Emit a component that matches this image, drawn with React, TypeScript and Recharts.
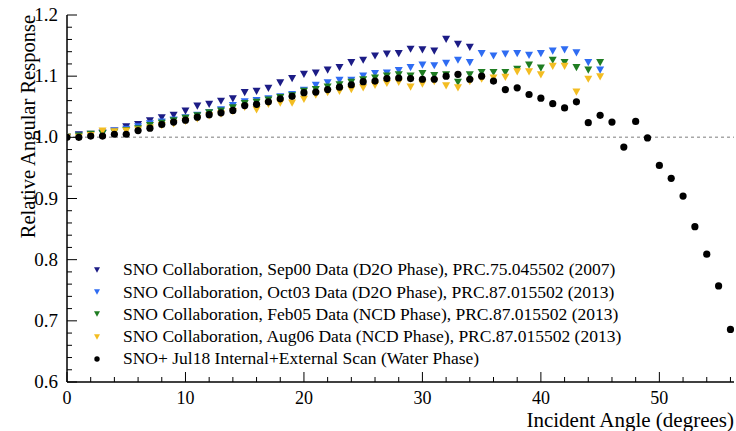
import React from 'react';
import { ScatterChart, Scatter, XAxis, YAxis, ReferenceLine, Legend, Label } from 'recharts';

const FONT = '"Liberation Serif", "Times New Roman", Times, serif';

// Incident angles (degrees)
const angles = [
  0, 1, 2, 3, 4, 5, 6, 7, 8, 9, 10, 11, 12, 13, 14, 15, 16, 17, 18, 19,
  20, 21, 22, 23, 24, 25, 26, 27, 28, 29, 30, 31, 32, 33, 34, 35, 36, 37, 38, 39,
  40, 41, 42, 43, 44, 45, 46, 47, 48, 49, 50, 51, 52, 53, 54, 55, 56,
];

// SNO Sep00 (D2O) 0..34 deg
const sep00 = [
  1.000, 1.004, 1.005, 1.007, 1.010, 1.017, 1.021, 1.027, 1.032, 1.036,
  1.043, 1.051, 1.054, 1.059, 1.063, 1.073, 1.075, 1.080, 1.089, 1.096,
  1.103, 1.105, 1.110, 1.114, 1.122, 1.126, 1.133, 1.136, 1.137, 1.144,
  1.143, 1.141, 1.160, 1.152, 1.147,
];

// SNO Oct03 (D2O) 0..45 deg
const oct03 = [
  1.000, 1.002, 1.004, 1.006, 1.010, 1.013, 1.017, 1.022, 1.025, 1.028,
  1.032, 1.036, 1.040, 1.045, 1.052, 1.058, 1.060, 1.063, 1.066, 1.070,
  1.077, 1.085, 1.089, 1.093, 1.093, 1.100, 1.104, 1.105, 1.109, 1.114,
  1.118, 1.117, 1.121, 1.126, 1.122, 1.137, 1.133, 1.136, 1.137, 1.134,
  1.137, 1.141, 1.143, 1.138, 1.122, 1.110,
];

// SNO Feb05 (NCD) 0..45 deg
const feb05 = [
  1.000, 1.002, 1.005, 1.006, 1.008, 1.011, 1.014, 1.019, 1.023, 1.027,
  1.031, 1.035, 1.040, 1.043, 1.048, 1.055, 1.057, 1.061, 1.065, 1.068,
  1.075, 1.078, 1.082, 1.086, 1.090, 1.094, 1.097, 1.100, 1.102, 1.100,
  1.104, 1.101, 1.102, 1.090, 1.102, 1.106, 1.106, 1.106, 1.111, 1.118,
  1.113, 1.126, 1.122, 1.114, 1.110, 1.122,
];

// SNO Aug06 (NCD) 0..45 deg
const aug06 = [
  1.000, 1.000, 1.003, 1.010, 1.009, 1.010, 1.012, 1.015, 1.019, 1.022,
  1.026, 1.030, 1.035, 1.038, 1.042, 1.049, 1.045, 1.054, 1.056, 1.056,
  1.062, 1.069, 1.073, 1.075, 1.078, 1.081, 1.085, 1.088, 1.090, 1.082,
  1.087, 1.091, 1.084, 1.081, 1.091, 1.095, 1.097, 1.098, 1.107, 1.107,
  1.102, 1.116, 1.116, 1.074, 1.095, 1.099,
];

// SNO+ Jul18 (Water) 0..56 deg
const jul18 = [
  1.000, 1.000, 1.002, 1.002, 1.005, 1.005, 1.011, 1.015, 1.021, 1.025,
  1.028, 1.033, 1.037, 1.040, 1.044, 1.052, 1.054, 1.058, 1.063, 1.067,
  1.073, 1.074, 1.078, 1.082, 1.086, 1.091, 1.092, 1.096, 1.097, 1.096,
  1.095, 1.095, 1.100, 1.103, 1.095, 1.100, 1.092, 1.078, 1.081, 1.070,
  1.064, 1.055, 1.048, 1.058, 1.024, 1.036, 1.025, 0.984, 1.026, 0.999,
  0.954, 0.933, 0.904, 0.854, 0.809, 0.757, 0.686,
];

const seriesNames = [
  'SNO Collaboration, Sep00 Data (D2O Phase), PRC.75.045502 (2007)',
  'SNO Collaboration, Oct03 Data (D2O Phase), PRC.87.015502 (2013)',
  'SNO Collaboration, Feb05 Data (NCD Phase), PRC.87.015502 (2013)',
  'SNO Collaboration, Aug06 Data (NCD Phase), PRC.87.015502 (2013)',
  'SNO+ Jul18 Internal+External Scan (Water Phase)',
];
const seriesColors = ['#1c1c86', '#2f6cf2', '#1f7d22', '#f3bd22', '#000000'];
const seriesKinds = ['tri', 'tri', 'tri', 'tri', 'dot'];
const seriesValues = [sep00, oct03, feb05, aug06, jul18];

const xMajorTicks = [0, 10, 20, 30, 40, 50];
const yMajorTicks = [0.6, 0.7, 0.8, 0.9, 1.0, 1.1, 1.2];
const X_MAX = 56.3;
const xMinorStep = 2;
const yMinorStep = 0.02;

const xTicks: number[] = [];
for (let v = 0; v <= X_MAX + 1e-9; v += xMinorStep) xTicks.push(Math.round(v * 100) / 100);
const yTicks: number[] = [];
for (let i = 0; i <= 30; i++) yTicks.push(Math.round((0.6 + i * yMinorStep) * 1000) / 1000);

const isMajor = (v: number, arr: number[]) => arr.some((m) => Math.abs(m - v) < 1e-6);

const toPoints = (vals: number[]) => vals.map((y, i) => ({ x: angles[i], y }));

const Marker = ({ kind, cx, cy, color, s = 1 }: any) => {
  if (kind === 'dot') return <circle cx={cx} cy={cy} r={3.6 * s} fill={color} />;
  const w = 4 * s;
  const h = 3.6 * s;
  return (
    <path
      d={`M${cx - w},${cy - h} L${cx + w},${cy - h} L${cx},${cy + h} Z`}
      fill={color}
    />
  );
};

const MAJ = 10;
const MIN = 5;

const BottomTick = (props: any) => {
  const { x, y, payload } = props;
  const major = isMajor(payload.value, xMajorTicks);
  return (
    <g>
      <line x1={x} x2={x} y1={y} y2={y - (major ? MAJ : MIN)} stroke="#000" strokeWidth={1} />
      {major && (
        <text x={x} y={y + 21.5} textAnchor="middle" fontFamily={FONT} fontSize={18} fill="#000">
          {payload.value}
        </text>
      )}
    </g>
  );
};

const TopTick = (props: any) => {
  const { x, y, payload } = props;
  const major = isMajor(payload.value, xMajorTicks);
  return <line x1={x} x2={x} y1={y} y2={y + (major ? MAJ : MIN)} stroke="#000" strokeWidth={1} />;
};

const LeftTick = (props: any) => {
  const { x, y, payload } = props;
  const major = isMajor(payload.value, yMajorTicks);
  return (
    <g>
      <line x1={x} x2={x + (major ? MAJ : MIN)} y1={y} y2={y} stroke="#000" strokeWidth={1} />
      {major && (
        <text x={x - 9} y={y + 6} textAnchor="end" fontFamily={FONT} fontSize={19} fill="#000">
          {payload.value.toFixed(1)}
        </text>
      )}
    </g>
  );
};

const RightTick = (props: any) => {
  const { x, y, payload } = props;
  const major = isMajor(payload.value, yMajorTicks);
  return <line x1={x} x2={x - (major ? MAJ : MIN)} y1={y} y2={y} stroke="#000" strokeWidth={1} />;
};

const XTitle = (props: any) => {
  const vb = props.viewBox || { x: 67, y: 382, width: 667 };
  return (
    <text x={vb.x + vb.width} y={vb.y + 44.5} textAnchor="end" fontFamily={FONT} fontSize={21} fill="#000">
      Incident Angle (degrees)
    </text>
  );
};

const YTitle = (props: any) => {
  const vb = props.viewBox || { x: 0, y: 15 };
  return (
    <text
      transform={`translate(${vb.x + 35},${vb.y}) rotate(-90)`}
      textAnchor="end"
      fontFamily={FONT}
      fontSize={20.5}
      fill="#000"
    >
      Relative Angular Response
    </text>
  );
};

const renderLegend = () => (
  <div style={{ fontFamily: FONT, fontSize: 17.5, color: '#000', lineHeight: 1 }}>
    {seriesNames.map((name, i) => (
      <div key={name} style={{ display: 'flex', alignItems: 'center', height: 22.2 }}>
        <svg width={18} height={12} style={{ display: 'block' }}>
          <Marker kind={seriesKinds[i]} cx={9} cy={6} color={seriesColors[i]} s={0.75} />
        </svg>
        <span style={{ marginLeft: 17, whiteSpace: 'nowrap' }}>{name}</span>
      </div>
    ))}
  </div>
);

const axisLine = { stroke: '#000', strokeWidth: 1.5 };

export default function App() {
  return (
    <div style={{ position: 'absolute', left: 0, top: 0, width: 736, height: 431, background: '#fff' }}>
      <ScatterChart width={736} height={431} margin={{ top: 15, right: 2, bottom: 0, left: 0 }}>
        <XAxis
          xAxisId={0}
          type="number"
          dataKey="x"
          domain={[0, X_MAX]}
          ticks={xTicks}
          interval={0}
          height={49}
          tickSize={0}
          tickMargin={0}
          tickLine={false}
          axisLine={axisLine}
          tick={<BottomTick />}
          allowDataOverflow
        >
          <Label content={<XTitle />} />
        </XAxis>
        <XAxis
          xAxisId="top"
          orientation="top"
          type="number"
          dataKey="x"
          domain={[0, X_MAX]}
          ticks={xTicks}
          interval={0}
          height={0}
          tickSize={0}
          tickMargin={0}
          tickLine={false}
          axisLine={axisLine}
          tick={<TopTick />}
          allowDataOverflow
        />
        <YAxis
          yAxisId={0}
          type="number"
          dataKey="y"
          domain={[0.6, 1.2]}
          ticks={yTicks}
          interval={0}
          width={67}
          tickSize={0}
          tickMargin={0}
          tickLine={false}
          axisLine={axisLine}
          tick={<LeftTick />}
          allowDataOverflow
        >
          <Label content={<YTitle />} />
        </YAxis>
        <YAxis
          yAxisId="right"
          orientation="right"
          type="number"
          dataKey="y"
          domain={[0.6, 1.2]}
          ticks={yTicks}
          interval={0}
          width={0}
          tickSize={0}
          tickMargin={0}
          tickLine={false}
          axisLine={axisLine}
          tick={<RightTick />}
          allowDataOverflow
        />
        <ReferenceLine
          y={1}
          xAxisId={0}
          yAxisId={0}
          stroke="#a8a8a8"
          strokeWidth={1.5}
          strokeDasharray="3 3"
        />
        {seriesValues.map((vals, i) => (
          <Scatter
            key={seriesNames[i]}
            name={seriesNames[i]}
            data={toPoints(vals)}
            xAxisId={0}
            yAxisId={0}
            fill={seriesColors[i]}
            isAnimationActive={false}
            shape={(p: any) => <Marker kind={seriesKinds[i]} cx={p.cx} cy={p.cy} color={seriesColors[i]} />}
          />
        ))}
        <Legend
          layout="vertical"
          align="center"
          verticalAlign="middle"
          content={renderLegend}
          wrapperStyle={{ left: 88, top: 259, width: 'auto' }}
        />
      </ScatterChart>
    </div>
  );
}
